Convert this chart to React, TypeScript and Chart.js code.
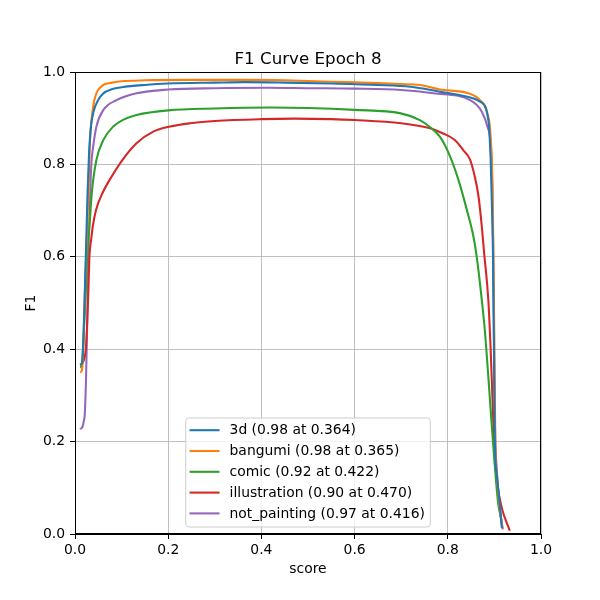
import { useEffect, useRef } from 'react';
import { Chart, registerables } from 'chart.js';

Chart.register(...registerables);

const titleText = 'F1 Curve Epoch 8';
const xTitle = 'score';
const yTitle = 'F1';
const xTicks = [0, 0.2, 0.4, 0.6, 0.8, 1.0];
const yTicks = [0, 0.2, 0.4, 0.6, 0.8, 1.0];

const names = ['3d', 'bangumi', 'comic', 'illustration', 'not_painting'];
const bestF1 = ['0.98', '0.98', '0.92', '0.90', '0.97'];
const bestScore = ['0.364', '0.365', '0.422', '0.470', '0.416'];
const colors = ['#1f77b4', '#ff7f0e', '#2ca02c', '#d62728', '#9467bd'];

const score3d = [0.011, 0.015, 0.018, 0.021, 0.024, 0.027, 0.03, 0.034, 0.04, 0.05, 0.06, 0.08, 0.1, 0.15, 0.2, 0.3, 0.364, 0.45, 0.55, 0.65, 0.72, 0.78, 0.84, 0.869, 0.887, 0.892, 0.895, 0.897, 0.899, 0.901, 0.906, 0.911, 0.916];
const f13d = [0.366, 0.37, 0.42, 0.52, 0.63, 0.74, 0.82, 0.88, 0.915, 0.94, 0.953, 0.963, 0.967, 0.972, 0.975, 0.977, 0.978, 0.977, 0.975, 0.972, 0.968, 0.958, 0.947, 0.936, 0.896, 0.81, 0.7, 0.6, 0.4, 0.2, 0.12, 0.07, 0.013];

const scoreBangumi = [0.011, 0.015, 0.018, 0.021, 0.025, 0.029, 0.032, 0.039, 0.046, 0.061, 0.08, 0.1, 0.15, 0.25, 0.365, 0.45, 0.55, 0.65, 0.7, 0.74, 0.783, 0.844, 0.869, 0.885, 0.892, 0.896, 0.898, 0.9, 0.902, 0.906, 0.911, 0.917];
const f1Bangumi = [0.35, 0.355, 0.41, 0.52, 0.63, 0.74, 0.846, 0.925, 0.954, 0.972, 0.977, 0.98, 0.982, 0.983, 0.983, 0.982, 0.979, 0.976, 0.974, 0.972, 0.962, 0.954, 0.939, 0.911, 0.86, 0.75, 0.6, 0.4, 0.2, 0.12, 0.06, 0.012];

const scoreComic = [0.011, 0.015, 0.018, 0.021, 0.023, 0.026, 0.031, 0.036, 0.046, 0.061, 0.082, 0.104, 0.132, 0.2, 0.3, 0.422, 0.5, 0.6, 0.697, 0.74, 0.76, 0.783, 0.805, 0.823, 0.841, 0.855, 0.863, 0.873, 0.88, 0.887, 0.894, 0.901, 0.908, 0.914];
const f1Comic = [0.361, 0.365, 0.42, 0.48, 0.52, 0.6, 0.665, 0.738, 0.81, 0.853, 0.882, 0.897, 0.907, 0.917, 0.921, 0.923, 0.922, 0.918, 0.911, 0.896, 0.882, 0.86, 0.817, 0.766, 0.701, 0.644, 0.593, 0.506, 0.435, 0.34, 0.24, 0.146, 0.067, 0.035];

const scoreIllustration = [0.011, 0.016, 0.02, 0.0236, 0.0285, 0.031, 0.035, 0.038, 0.045, 0.059, 0.074, 0.102, 0.132, 0.168, 0.204, 0.247, 0.3, 0.4, 0.47, 0.55, 0.6, 0.7, 0.762, 0.79, 0.815, 0.833, 0.848, 0.858, 0.866, 0.873, 0.878, 0.887, 0.892, 0.896, 0.9, 0.906, 0.916, 0.933];
const f1Illustration = [0.366, 0.37, 0.38, 0.405, 0.52, 0.6, 0.64, 0.665, 0.701, 0.738, 0.766, 0.81, 0.846, 0.871, 0.882, 0.889, 0.894, 0.898, 0.899, 0.898, 0.896, 0.889, 0.878, 0.867, 0.853, 0.831, 0.81, 0.773, 0.73, 0.665, 0.608, 0.506, 0.398, 0.29, 0.18, 0.11, 0.056, 0.007];

const scoreNotPainting = [0.011, 0.016, 0.019, 0.021, 0.0235, 0.025, 0.027, 0.029, 0.032, 0.035, 0.039, 0.046, 0.061, 0.089, 0.132, 0.2, 0.3, 0.416, 0.5, 0.6, 0.7, 0.769, 0.848, 0.873, 0.885, 0.894, 0.897, 0.899, 0.901, 0.905, 0.91, 0.918];
const f1NotPainting = [0.227, 0.232, 0.245, 0.26, 0.33, 0.4, 0.5, 0.62, 0.72, 0.8, 0.838, 0.882, 0.918, 0.939, 0.954, 0.962, 0.965, 0.966, 0.965, 0.964, 0.961, 0.954, 0.939, 0.914, 0.882, 0.81, 0.65, 0.45, 0.25, 0.14, 0.07, 0.01];

const seriesScores = [score3d, scoreBangumi, scoreComic, scoreIllustration, scoreNotPainting];
const seriesF1 = [f13d, f1Bangumi, f1Comic, f1Illustration, f1NotPainting];

const FONT = 'DejaVu Sans';

export default function App() {
  const ref = useRef<HTMLCanvasElement | null>(null);

  useEffect(() => {
    const canvas = ref.current;
    if (!canvas) return;

    const labels = names.map((n, i) => `${n} (${bestF1[i]} at ${bestScore[i]})`);

    const framePlugin = {
      id: 'frame',
      afterDatasetsDraw(chart: any) {
        const { ctx, chartArea } = chart;
        ctx.save();
        ctx.strokeStyle = '#000';
        ctx.lineWidth = 1;
        ctx.strokeRect(chartArea.left + 0.5, chartArea.top + 0.5, chartArea.right - chartArea.left - 1, chartArea.bottom - chartArea.top - 1);
        ctx.restore();
      },
      afterDraw(chart: any) {
        const { ctx, chartArea } = chart;
        ctx.save();
        ctx.fillStyle = '#000';
        ctx.font = `16.7px "${FONT}"`;
        ctx.textAlign = 'center';
        ctx.textBaseline = 'alphabetic';
        ctx.fillText(titleText, (chartArea.left + chartArea.right) / 2, chartArea.top - 8);

        const cx = (chartArea.left + chartArea.right) / 2;
        const w = 244.5;
        const h = 109;
        const x0 = cx - w / 2;
        const y0 = chartArea.bottom - 7 - h;
        ctx.beginPath();
        (ctx as any).roundRect(x0, y0, w, h, 3);
        ctx.fillStyle = 'rgba(255,255,255,0.8)';
        ctx.fill();
        ctx.strokeStyle = '#cccccc';
        ctx.lineWidth = 1;
        ctx.stroke();
        ctx.font = `13.9px "${FONT}"`;
        ctx.textAlign = 'left';
        ctx.textBaseline = 'middle';
        labels.forEach((lab, i) => {
          const y = y0 + 12.2 + i * 20.8;
          ctx.beginPath();
          ctx.strokeStyle = colors[i];
          ctx.lineWidth = 2.08;
          ctx.moveTo(x0 + 3.8, y);
          ctx.lineTo(x0 + 33.8, y);
          ctx.stroke();
          ctx.fillStyle = '#000';
          ctx.fillText(lab, x0 + 43.8, y + 0.5);
        });
        ctx.restore();
      },
    };

    const tickFont = { family: FONT, size: 13.9 };

    const chart = new Chart(canvas, {
      type: 'line',
      data: {
        datasets: names.map((n, i) => ({
          label: n,
          data: seriesScores[i].map((x, j) => ({ x, y: seriesF1[i][j] })),
          borderColor: colors[i],
          backgroundColor: colors[i],
          borderWidth: 2.08,
          pointRadius: 0,
          cubicInterpolationMode: 'monotone' as const,
          fill: false,
        })),
      },
      options: {
        animation: false,
        responsive: false,
        events: [],
        layout: { padding: { top: 72, right: 59, bottom: 0, left: 0 } },
        plugins: {
          legend: { display: false },
          title: { display: false },
          tooltip: { enabled: false },
        },
        scales: {
          x: {
            type: 'linear',
            min: 0,
            max: 1,
            afterBuildTicks: (s: any) => { s.ticks = xTicks.map((v) => ({ value: v })); },
            afterFit: (s: any) => { s.height = 66; },
            ticks: {
              callback: (v: any) => Number(v).toFixed(1),
              font: tickFont,
              color: '#000',
              padding: 3,
              maxRotation: 0,
            },
            grid: { color: '#b0b0b0', lineWidth: 0.8, tickColor: '#000', tickLength: 5, tickWidth: 1 },
            border: { display: true, color: '#000', width: 1 },
            title: { display: true, text: xTitle, font: tickFont, color: '#000', padding: { top: 0, bottom: 22.7 } },
          },
          y: {
            type: 'linear',
            min: 0,
            max: 1,
            afterBuildTicks: (s: any) => { s.ticks = yTicks.map((v) => ({ value: v })); },
            afterFit: (s: any) => { s.width = 75; },
            ticks: {
              callback: (v: any) => Number(v).toFixed(1),
              font: tickFont,
              color: '#000',
              padding: 5,
            },
            grid: { color: '#b0b0b0', lineWidth: 0.8, tickColor: '#000', tickLength: 5, tickWidth: 1 },
            border: { display: true, color: '#000', width: 1 },
            title: { display: true, text: yTitle, font: tickFont, color: '#000', padding: { top: 22.7, bottom: 0 } },
          },
        },
      },
      plugins: [framePlugin],
    });

    return () => chart.destroy();
  }, []);

  return (
    <div style={{ position: 'fixed', left: 0, top: 0, width: 600, height: 600, background: '#fff' }}>
      <canvas ref={ref} width={600} height={600} style={{ display: 'block' }} />
    </div>
  );
}
